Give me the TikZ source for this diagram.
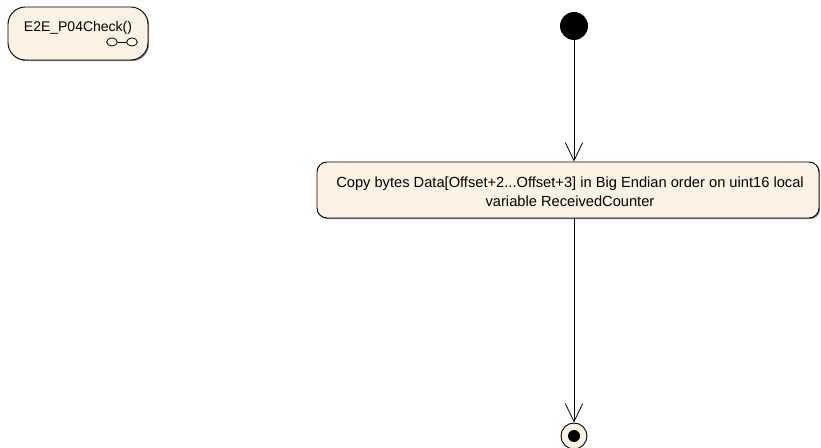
\documentclass[tikz,border=0pt]{standalone}
\usepackage{fontspec}
\setmainfont{Liberation Sans}
\usetikzlibrary{arrows.meta,shadows}
\definecolor{actfill}{RGB}{251,242,228}
\tikzset{
  actbox/.style={draw=black, line width=0.7pt, fill=actfill, rounded corners=7.5pt,
    drop shadow={shadow xshift=0.9pt, shadow yshift=-0.9pt, fill=black!45, opacity=1},
    align=center, inner sep=0pt, font=\fontsize{11}{14.25}\selectfont},
  flow/.style={draw=black, line width=0.6pt, -{Straight Barb[length=13.5pt,width=13pt,line width=0.6pt]}},
  iconring/.style={ellipse, draw, line width=0.6pt, minimum width=8pt, minimum height=6pt, inner sep=0pt},
}
\usetikzlibrary{shapes.geometric}
\begin{document}
\begin{tikzpicture}[x=0.75pt,y=-0.75pt]
\useasboundingbox (0,0) rectangle (821,448);
% activity frame
\node[actbox, rounded corners=13pt, minimum width=105pt, minimum height=39.75pt] (frame) at (78,33.5) {};
\node[font=\fontsize{10.5}{12}\selectfont] (ftitle) at (78,28) {E2E\_P04Check()};
\node[iconring] (ic1) at (112,42) {};
\node[iconring] (ic2) at (132,42) {};
\draw[line width=0.6pt] (ic1) -- (ic2);
% initial
\node[circle, fill=black, minimum size=21pt, inner sep=0pt] (init) at (574,26) {};
% action
\node[actbox, minimum width=376.5pt, minimum height=42pt] (act) at (568,190) {};
\node[align=center, inner sep=0pt, font=\fontsize{11}{14.25}\selectfont] (acttext) at (570,192)
  {Copy bytes Data[Offset+2...Offset+3] in Big Endian order on uint16 local\\variable ReceivedCounter};
% final
\node[circle, draw=black, line width=0.7pt, fill=actfill, minimum size=19.5pt, inner sep=0pt] (final) at (574,436) {};
\node[circle, fill=black, minimum size=9pt, inner sep=0pt] (finaldot) at (574,436) {};
% flows
\draw[flow] (init) -- (init |- act.north);
\draw[flow] (act.south -| init) -- (final);
\end{tikzpicture}
\end{document}
